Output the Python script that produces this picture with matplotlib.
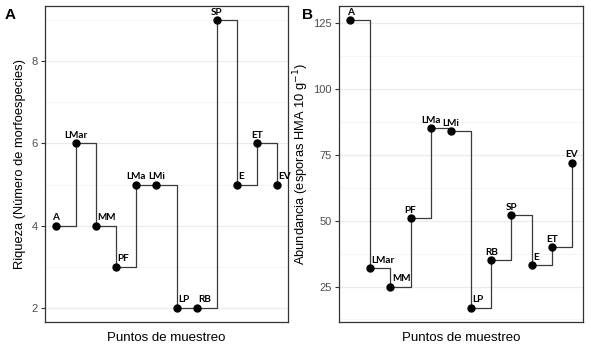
import matplotlib
matplotlib.use('Agg')
import matplotlib.pyplot as plt
from matplotlib.ticker import MultipleLocator

# ---- data ----
sites = ['A', 'LMar', 'MM', 'PF', 'LMa', 'LMi', 'LP', 'RB', 'SP', 'E', 'ET', 'EV']
riqueza = [4, 6, 4, 3, 5, 5, 2, 2, 9, 5, 6, 5]
abundancia = [126, 32, 25, 51, 85, 84, 17, 35, 52, 33, 40, 72]
riqueza_ticks = [2, 4, 6, 8]
abundancia_ticks = [25, 50, 75, 100, 125]

# label placement styles (alignment of each point label)
ha_A = ['center', 'center', 'left', 'left', 'center', 'center', 'left', 'left', 'center', 'left', 'center', 'left']
ha_B = ['center', 'left', 'left', 'center', 'center', 'center', 'left', 'center', 'center', 'left', 'center', 'center']

plt.rcParams['font.family'] = ['Liberation Sans', 'DejaVu Sans']

fig = plt.figure(figsize=(5.91, 3.51), dpi=100)
axA = fig.add_axes([45/591, 1-322/351, 243/591, 316/351])
axB = fig.add_axes([339/591, 1-322/351, 244/591, 316/351])

xs = list(range(1, len(sites) + 1))


def style(ax, ticks, minor):
    ax.set_facecolor('white')
    for s in ax.spines.values():
        s.set_color('#333333')
        s.set_linewidth(0.9)
    ax.set_xticks([])
    ax.set_yticks(ticks)
    ax.yaxis.set_minor_locator(MultipleLocator(minor))
    ax.tick_params(axis='y', which='major', length=3, width=0.8, color='#333333',
                   labelsize=8, labelcolor='#4D4D4D', pad=2)
    ax.tick_params(axis='y', which='minor', length=0)
    ax.grid(axis='y', which='major', color='#EBEBEB', linewidth=0.9)
    ax.grid(axis='y', which='minor', color='#F2F2F2', linewidth=0.5)
    ax.set_axisbelow(True)
    ax.set_xlim(0.45, len(sites) + 0.55)


def draw(ax, vals, has):
    ax.step(xs, vals, where='post', color='#3a3a3a', linewidth=0.9, zorder=2)
    ax.plot(xs, vals, 'o', color='black', markersize=5, zorder=3)
    for x, v, s, ha in zip(xs, vals, sites, has):
        dx = 1.0 if ha == 'left' else 0
        ax.annotate(s, (x, v), xytext=(dx, 2.5), textcoords='offset points',
                    ha=ha, va='bottom', fontsize=7.2, fontweight='bold',
                    family=['Lato', 'DejaVu Sans'], color='black', zorder=4)


style(axA, riqueza_ticks, 1)
draw(axA, riqueza, ha_A)
lo, hi = min(riqueza), max(riqueza)
pad = (hi - lo) * 0.05
axA.set_ylim(lo - pad, hi + pad)
axA.set_ylabel('Riqueza (Número de morfoespecies)', fontsize=9.3, labelpad=4)
axA.set_xlabel('Puntos de muestreo', fontsize=9.5, labelpad=7)

style(axB, abundancia_ticks, 12.5)
draw(axB, abundancia, ha_B)
lo, hi = min(abundancia), max(abundancia)
pad = (hi - lo) * 0.05
axB.set_ylim(lo - pad, hi + pad)
axB.set_ylabel(r'Abundancia (esporas HMA 10 g$^{-1}$)', fontsize=9.3, labelpad=2)
axB.set_xlabel('Puntos de muestreo', fontsize=9.5, labelpad=7)

fig.text(5/591, 1-22/351, 'A', fontsize=11, fontweight='bold', va='bottom', ha='left')
fig.text(302/591, 1-22/351, 'B', fontsize=11, fontweight='bold', va='bottom', ha='left')

fig.savefig('out.png', dpi=100)
